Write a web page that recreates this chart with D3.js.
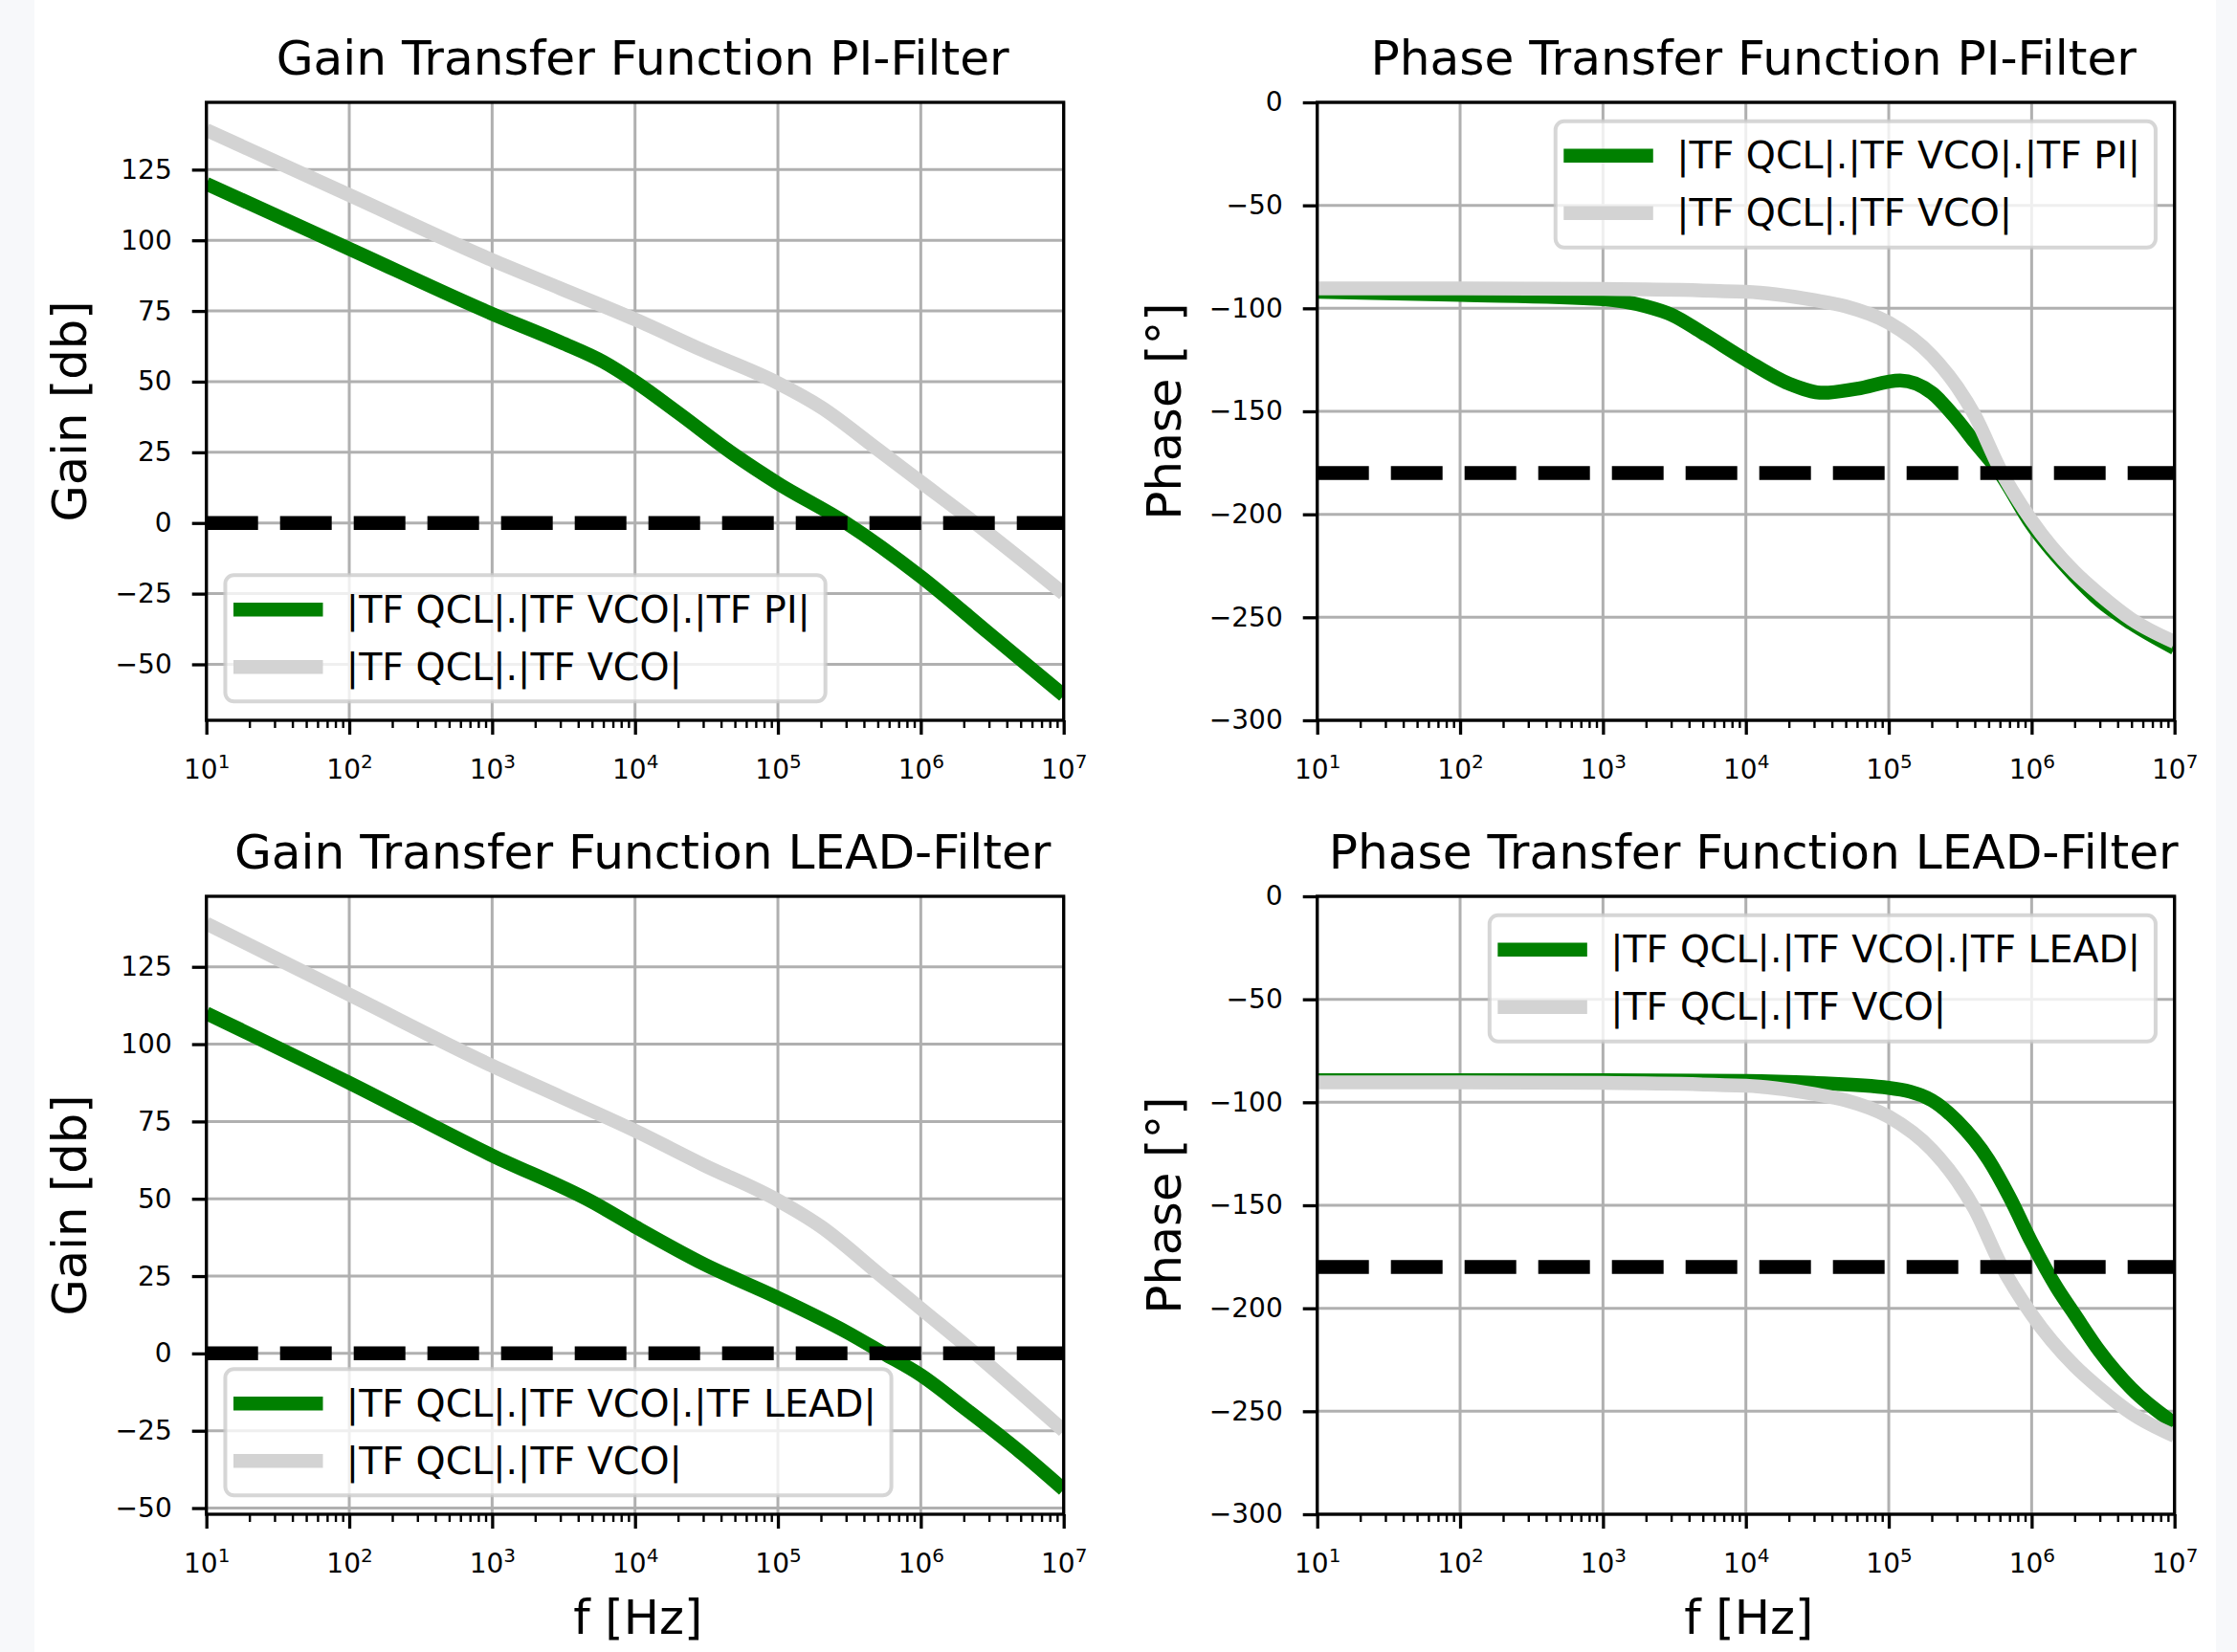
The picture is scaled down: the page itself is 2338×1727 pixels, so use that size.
<!DOCTYPE html>
<html>
<head>
<meta charset="utf-8">
<style>
     body {
          margin: 0;
          background: #f7f8fa;
          font-family: "DejaVu Sans";
     }
     svg {
          display: block;
     }
     .grid line {
          stroke: #b0b0b0;
          stroke-width: 3;
     }
     .axis path {
          display: none;
     }
     .axis line {
          stroke: #000;
     }
     .axis text {
          font-family: "DejaVu Sans";
          fill: #000;
     }
     .title {
          font-size: 50.2px;
          text-anchor: middle;
     }
     .axis-label {
          font-size: 49.5px;
          text-anchor: middle;
     }
     .legend text {
          font-size: 39.5px;
     }
</style>
</head>
<body>
<script src="https://d3js.org/d3.v7.min.js"></script>
<script>

     // ---- data ----
     var decades = [1e1, 1e2, 1e3, 1e4, 1e5, 1e6, 1e7];

     var gainTicksPI = [-50, -25, 0, 25, 50, 75, 100, 125];
     var gainTicksLEAD = [-50, -25, 0, 25, 50, 75, 100, 125];
     var phaseTicks = [0, -50, -100, -150, -200, -250, -300];

     // |TF QCL|.|TF VCO| gain (same curve in both gain plots)
     var vcoGainFreq = [10, 1e2, 1e3, 3e3, 1e4, 3e4, 1e5, 2e5, 5e5, 1e6, 2.4e6, 1e7];
     var vcoGain     = [139, 116, 93, 83, 72, 61, 49.5, 41, 26, 14.5, 0, -25];

     // |TF QCL|.|TF VCO|.|TF PI| gain
     var piGainFreq = [10, 1e2, 1e3, 3e3, 6e3, 1e4, 2e4, 5e4, 1e5, 3e5, 1e6, 3e6, 1e7];
     var piGain     = [120, 97, 74, 64, 57, 50, 39, 24, 14, 0, -19, -39, -61];

     // |TF QCL|.|TF VCO|.|TF LEAD| gain
     var leadGainFreq = [10, 1e2, 1e3, 5e3, 1e4, 3e4, 1e5, 3e5, 5.5e5, 1e6, 2e6, 5e6, 1e7];
     var leadGain     = [110, 87.5, 64, 49, 41, 29, 18, 7, 0, -7, -17.5, -32, -44];

     // |TF QCL|.|TF VCO| phase (same curve in both phase plots)
     var vcoPhaseFreq = [10, 1e2, 1e3, 1e4, 3e4, 5e4, 1e5, 2e5, 3e5, 4e5, 6e5, 1e6, 2e6, 3e6, 5e6, 1e7];
     var vcoPhase     = [-90.3, -90.3, -90.6, -92, -96, -99, -107, -123, -138, -152, -178, -203, -228, -239, -251, -262];

     // |TF QCL|.|TF VCO|.|TF PI| phase
     var piPhaseFreq = [10, 1e2, 1e3, 2e3, 3e3, 5e3, 1e4, 2e4, 3.5e4, 6e4, 1.2e5, 2e5, 3e5, 4e5, 6e5, 1e6, 2e6, 3e6, 5e6, 1e7];
     var piPhase     = [-92, -93.5, -95.5, -99, -103, -112, -125, -136.5, -141, -139, -135, -141, -154, -165, -180, -205, -230, -242, -253, -265];

     // |TF QCL|.|TF VCO|.|TF LEAD| phase
     var leadPhaseFreq = [10, 1e2, 1e3, 1e4, 3e4, 1e5, 2e5, 3e5, 5e5, 7e5, 1e6, 1.5e6, 2e6, 3e6, 5e6, 1e7];
     var leadPhase     = [-89.3, -89.3, -89.3, -89.6, -90.6, -93, -99, -109, -128, -146, -168, -190, -203, -221, -239, -256];

     var labelPI = "|TF QCL|.|TF VCO|.|TF PI|";
     var labelLEAD = "|TF QCL|.|TF VCO|.|TF LEAD|";
     var labelVCO = "|TF QCL|.|TF VCO|";

     function zip(f, v) {
          return f.map(function(d, i) { return {f: d, v: v[i]}; });
     }

     var panels = [
          {title: "Gain Transfer Function PI-Filter", ylabel: "Gain [db]", left: 215.7, top: 107,
           ylim: [-69.8, 148.8], yticks: gainTicksPI, ref: 0, legend: "lower left",
           green: zip(piGainFreq, piGain), grey: zip(vcoGainFreq, vcoGain), greenLabel: labelPI},
          {title: "Phase Transfer Function PI-Filter", ylabel: "Phase [°]", left: 1376.7, top: 107,
           ylim: [-300, 0], yticks: phaseTicks, ref: -180, legend: "upper right",
           green: zip(piPhaseFreq, piPhase), grey: zip(vcoPhaseFreq, vcoPhase), greenLabel: labelPI},
          {title: "Gain Transfer Function LEAD-Filter", ylabel: "Gain [db]", left: 215.7, top: 937,
           ylim: [-52, 147.8], yticks: gainTicksLEAD, ref: 0, legend: "lower left", xlabel: "f [Hz]",
           green: zip(leadGainFreq, leadGain), grey: zip(vcoGainFreq, vcoGain), greenLabel: labelLEAD},
          {title: "Phase Transfer Function LEAD-Filter", ylabel: "Phase [°]", left: 1376.7, top: 937,
           ylim: [-300, 0], yticks: phaseTicks, ref: -180, legend: "upper right", xlabel: "f [Hz]",
           green: zip(leadPhaseFreq, leadPhase), grey: zip(vcoPhaseFreq, vcoPhase), greenLabel: labelLEAD}
     ];

     var width = 896, height = 646;
     var lw = 14.5;

     var svg = d3.select("body").append("svg")
          .attr("width", 2338)
          .attr("height", 1727);

     svg.append("rect")
          .attr("x", 36).attr("y", 0)
          .attr("width", 2280).attr("height", 1727)
          .attr("fill", "#fff");

     var minors = [];
     decades.slice(0, -1).forEach(function(d) {
          for (var k = 2; k <= 9; k++) minors.push(d * k);
     });

     panels.forEach(function(p, idx) {

          var x = d3.scaleLog().domain([10, 1e7]).range([0, width]);
          var y = d3.scaleLinear().domain(p.ylim).range([height, 0]);

          var g = svg.append("g")
               .attr("transform", "translate(" + p.left + "," + p.top + ")");

          g.append("clipPath").attr("id", "clip" + idx)
            .append("rect").attr("width", width).attr("height", height);

          // grid
          var grid = g.append("g").attr("class", "grid");
          grid.selectAll(".gx").data(decades)
            .enter().append("line")
               .attr("x1", function(d) { return x(d); })
               .attr("x2", function(d) { return x(d); })
               .attr("y1", 0).attr("y2", height);
          grid.selectAll(".gy").data(p.yticks)
            .enter().append("line")
               .attr("x1", 0).attr("x2", width)
               .attr("y1", function(d) { return y(d); })
               .attr("y2", function(d) { return y(d); });

          // curves
          var line = d3.line()
               .x(function(d) { return x(d.f); })
               .y(function(d) { return y(d.v); })
               .curve(d3.curveMonotoneX);

          var plot = g.append("g").attr("clip-path", "url(#clip" + idx + ")");

          plot.append("path")
               .datum(p.green)
               .attr("d", line)
               .attr("fill", "none")
               .attr("stroke", "green")
               .attr("stroke-width", lw);

          plot.append("path")
               .datum(p.grey)
               .attr("d", line)
               .attr("fill", "none")
               .attr("stroke", "lightgrey")
               .attr("stroke-width", lw);

          plot.append("line")
               .attr("x1", 0).attr("x2", width)
               .attr("y1", y(p.ref)).attr("y2", y(p.ref))
               .attr("stroke", "#000")
               .attr("stroke-width", lw)
               .attr("stroke-dasharray", "54,23");

          // axes
          var xAxis = d3.axisBottom(x)
               .tickValues(decades)
               .tickSize(15)
               .tickPadding(26)
               .tickFormat(function() { return ""; });

          var xg = g.append("g")
               .attr("class", "axis")
               .attr("transform", "translate(0," + height + ")")
               .call(xAxis);
          xg.selectAll("line").attr("stroke-width", 3.3);
          xg.selectAll(".tick text").each(function(d) {
               var t = d3.select(this).attr("font-size", 28).attr("dy", "0.71em");
               t.append("tspan").text("10");
               t.append("tspan").attr("font-size", 20).attr("dy", -11)
                    .text(Math.round(Math.log10(d)));
          });

          var xMinor = g.append("g")
               .attr("class", "axis")
               .attr("transform", "translate(0," + height + ")")
               .call(d3.axisBottom(x).tickValues(minors).tickSize(8).tickFormat(""));
          xMinor.selectAll("line").attr("stroke-width", 2.4);

          var yg = g.append("g")
               .attr("class", "axis")
               .call(d3.axisLeft(y).tickValues(p.yticks).tickSize(15).tickPadding(21));
          yg.selectAll("line").attr("stroke-width", 3.3);
          yg.selectAll("text").attr("font-size", 28);

          // spines
          g.append("rect")
               .attr("width", width).attr("height", height)
               .attr("fill", "none")
               .attr("stroke", "#000")
               .attr("stroke-width", 3.3);

          // titles and labels (titles sit a little right of centre in the original)
          g.append("text")
               .attr("class", "title")
               .attr("x", width / 2 + 8)
               .attr("y", -29)
               .text(p.title);

          var labelX = p.left < 1000 ? -125.7 : -143;
          g.append("text")
               .attr("class", "axis-label")
               .attr("transform", "translate(" + labelX + "," + (height / 2) + ") rotate(-90)")
               .text(p.ylabel);

          if (p.xlabel) {
               g.append("text")
                    .attr("class", "axis-label")
                    .attr("x", width / 2 + 3)
                    .attr("y", height + 125)
                    .text(p.xlabel);
          }

          // legend
          var fs = 39.5;
          var pad = 0.4 * fs, handle = 2 * fs, gap = 0.8 * fs, rowH = 40.3, spacing = 0.5 * fs;
          var leg = g.append("g").attr("class", "legend");
          var box = leg.append("rect")
               .attr("rx", 9).attr("ry", 9)
               .attr("fill", "#fff")
               .attr("fill-opacity", 0.8)
               .attr("stroke", "#cccccc")
               .attr("stroke-opacity", 0.8)
               .attr("stroke-width", 4);

          var entries = [{label: p.greenLabel, color: "green"}, {label: labelVCO, color: "lightgrey"}];
          var maxW = 0;
          entries.forEach(function(e, i) {
               var cy = pad + rowH / 2 + i * (rowH + spacing);
               leg.append("line")
                    .attr("x1", pad).attr("x2", pad + handle)
                    .attr("y1", cy).attr("y2", cy)
                    .attr("stroke", e.color)
                    .attr("stroke-width", lw)
                    .attr("stroke-linecap", "square");
               var t = leg.append("text")
                    .attr("x", pad + handle + gap)
                    .attr("y", cy + 13.5)
                    .text(e.label);
               maxW = Math.max(maxW, t.node().getComputedTextLength());
          });

          var bw = 2 * pad + handle + gap + maxW;
          var bh = 2 * pad + 2 * rowH + spacing;
          box.attr("width", bw).attr("height", bh);

          var lx, ly, inset = 0.5 * fs;
          if (p.legend == "lower left") {
               lx = inset; ly = height - inset - bh;
          } else {
               lx = width - inset - bw; ly = inset;
          }
          leg.attr("transform", "translate(" + lx + "," + ly + ")");
     });

</script>
</body>
</html>
